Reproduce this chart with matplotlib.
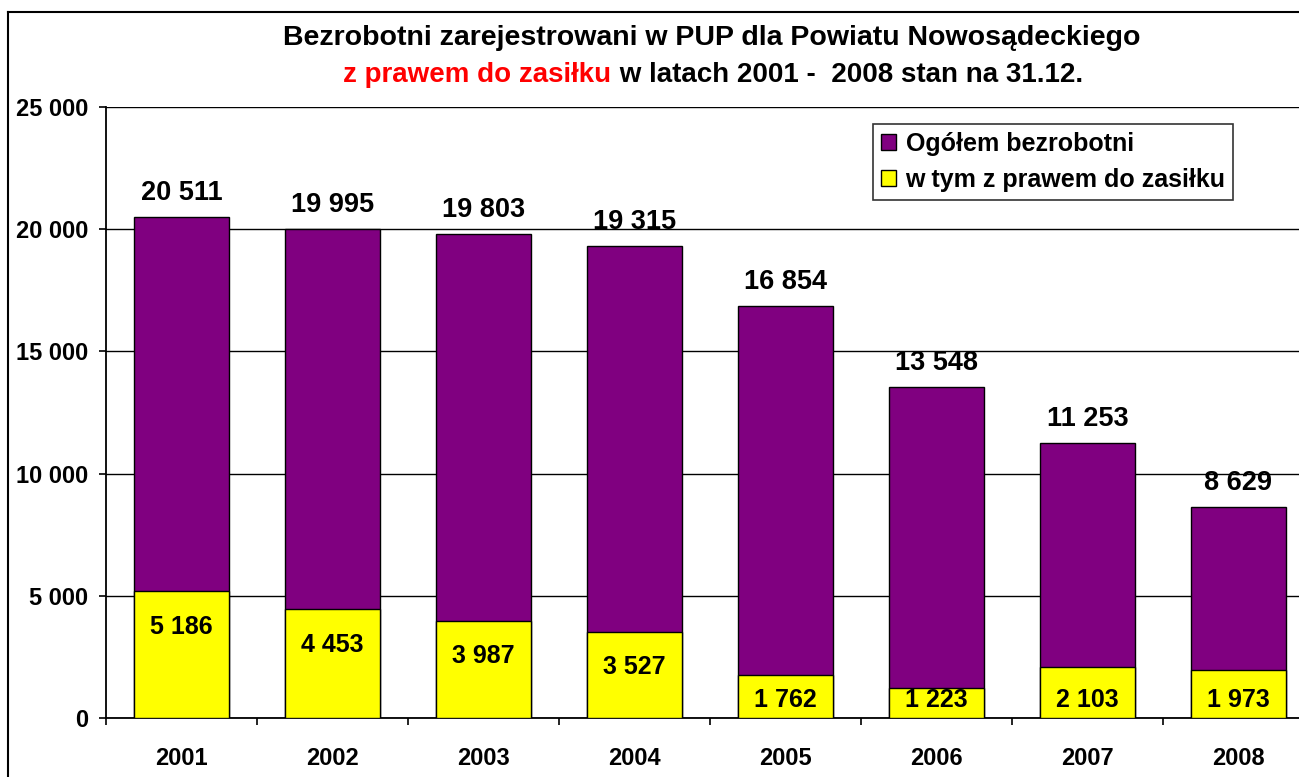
import matplotlib
matplotlib.use("Agg")
import matplotlib.pyplot as plt
from matplotlib.offsetbox import TextArea, HPacker, AnnotationBbox
from matplotlib.lines import Line2D

years = ["2001", "2002", "2003", "2004", "2005", "2006", "2007", "2008"]
total = [20511, 19995, 19803, 19315, 16854, 13548, 11253, 8629]
benefit = [5186, 4453, 3987, 3527, 1762, 1223, 2103, 1973]
yticks = [0, 5000, 10000, 15000, 20000, 25000]

def fmt(v):
    return f"{v:,}".replace(",", " ")

plt.rcParams['font.family'] = ['Liberation Sans', 'DejaVu Sans']
plt.rcParams['font.weight'] = 'bold'

W, H = 1299, 777
fig = plt.figure(figsize=(W / 100, H / 100), dpi=100)
ax = fig.add_axes([106 / W, 1 - 718 / H, (1314 - 106) / W, (718 - 107) / H])

x = list(range(len(years)))
ax.bar(x, total, width=0.63, color="#800080", edgecolor="black", linewidth=1, zorder=3,
       label="Ogółem bezrobotni")
ax.bar(x, benefit, width=0.63, color="#FFFF00", edgecolor="black", linewidth=1, zorder=4,
       label="w tym z prawem do zasiłku")

for xi, t in zip(x, total):
    ax.annotate(fmt(t), (xi, t), xytext=(0, 11), textcoords="offset pixels",
                ha="center", va="bottom", fontsize=19.5, fontweight="bold", zorder=6)
for xi, b in zip(x, benefit):
    ax.text(xi, max(b - 1450, 730), fmt(b), ha="center", va="center",
            fontsize=18, fontweight="bold", zorder=6)

ax.set_xlim(-0.5, len(years) - 0.5)
ax.set_ylim(0, 25000)
ax.set_yticks(yticks)
ax.set_yticklabels([fmt(v) for v in yticks], fontsize=17, fontweight="bold")
ax.tick_params(axis="y", length=5, width=1.2, pad=8)
ax.yaxis.grid(True, color="black", linewidth=1, zorder=0)
ax.set_axisbelow(True)

ax.set_xticks([i - 0.5 for i in range(len(years) + 1)])
ax.set_xticklabels([])
ax.set_xticks(x, minor=True)
ax.set_xticklabels(years, minor=True, fontsize=17, fontweight="bold")
ax.tick_params(axis="x", which="major", length=5, width=1.2, direction="out")
ax.tick_params(axis="x", which="minor", length=0, pad=21)

for s in ["top", "right"]:
    ax.spines[s].set_visible(False)
for s in ["left", "bottom"]:
    ax.spines[s].set_linewidth(1.3)

leg = ax.legend(loc="upper left", bbox_to_anchor=((873 - 106) / (1314 - 106), 1 - (124 - 107) / (718 - 107)),
                fontsize=18, frameon=True, fancybox=False, edgecolor="black",
                handlelength=0.6, handleheight=0.6, handletextpad=0.4, borderpad=0.3,
                labelspacing=0.5, borderaxespad=0)
leg.get_frame().set_linewidth(1.2)
for t in leg.get_texts():
    t.set_fontweight("bold")

fig.text(712 / W, 1 - 38 / H, "Bezrobotni zarejestrowani w PUP dla Powiatu Nowosądeckiego",
         ha="center", va="center", fontsize=20.5, fontweight="bold")
ta1 = TextArea("z prawem do zasiłku", textprops=dict(color="red", fontsize=20, fontweight="bold"))
ta2 = TextArea(" w latach 2001 -  2008 stan na 31.12.", textprops=dict(color="black", fontsize=20, fontweight="bold"))
pack = HPacker(children=[ta1, ta2], pad=0, sep=0, align="baseline")
ab = AnnotationBbox(pack, (713 / W, 1 - 75 / H), xycoords="figure fraction", frameon=False,
                    box_alignment=(0.5, 0.5))
fig.add_artist(ab)

fig.add_artist(Line2D([8 / W, 8 / W], [0, 1 - 12 / H], transform=fig.transFigure, color="black", lw=1.5))
fig.add_artist(Line2D([8 / W, 1], [1 - 12 / H, 1 - 12 / H], transform=fig.transFigure, color="black", lw=1.5))

fig.savefig("out.png", dpi=100)
